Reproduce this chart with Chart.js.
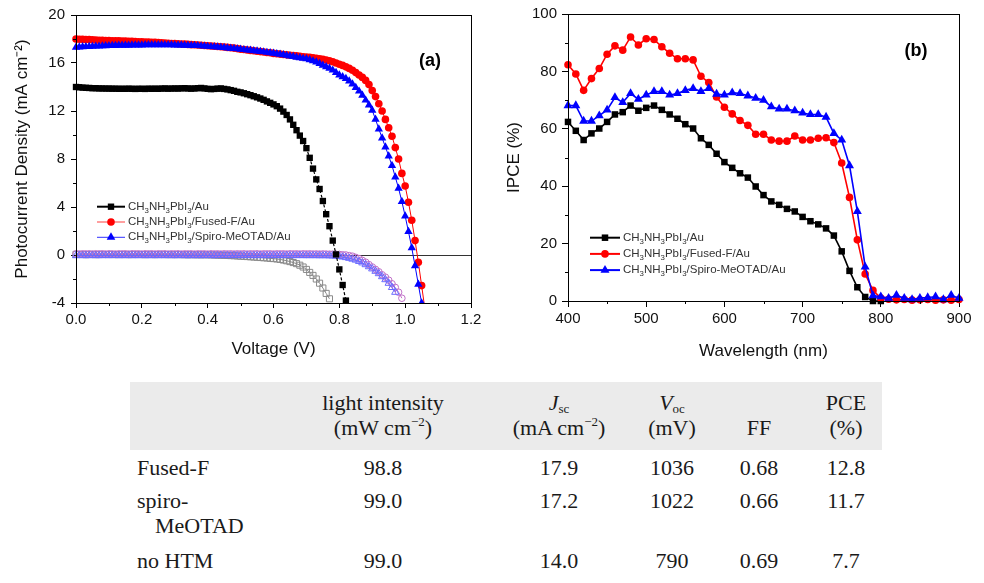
<!DOCTYPE html>
<html>
<head>
<meta charset="utf-8">
<script src="https://cdn.jsdelivr.net/npm/chart.js@4.4.1/dist/chart.umd.min.js"></script>
<style>
html,body{margin:0;padding:0;background:#fff;}
body{width:984px;height:583px;position:relative;overflow:hidden;}
canvas{position:absolute;top:0;}
#jv{left:0;}
#ipce{left:490px;}
#tbl{position:absolute;left:0;top:0;width:984px;height:583px;font-family:"Liberation Serif","Times New Roman",serif;font-size:22px;color:#1a1a1a;}
.hdr{position:absolute;left:130px;top:382px;width:752px;height:68px;background:#ebebeb;}
.cell{position:absolute;height:25px;line-height:25px;white-space:nowrap;}
sub{font-size:13px;vertical-align:-3px;line-height:0;}
sup{font-size:13px;vertical-align:9px;line-height:0;}
</style>
</head>
<body>
<div id="tbl"><div class="hdr"></div></div>
<canvas id="jv" width="490" height="365"></canvas>
<canvas id="ipce" width="494" height="365"></canvas>
<script>
// ---------------- DATA: J-V curves (panel a) ----------------
const voltage = [0.00,0.01,0.02,0.03,0.04,0.05,0.06,0.07,0.08,0.09,
0.10,0.11,0.12,0.13,0.14,0.15,0.16,0.17,0.18,0.19,
0.20,0.21,0.22,0.23,0.24,0.25,0.26,0.27,0.28,0.29,
0.30,0.31,0.32,0.33,0.34,0.35,0.36,0.37,0.38,0.39,
0.40,0.41,0.42,0.43,0.44,0.45,0.46,0.47,0.48,0.49,
0.50,0.51,0.52,0.53,0.54,0.55,0.56,0.57,0.58,0.59,
0.60,0.61,0.62,0.63,0.64,0.65,0.66,0.67,0.68,0.69,
0.70,0.71,0.72,0.73,0.74,0.75,0.76,0.77,0.78,0.79,
0.80,0.81,0.82,0.83,0.84,0.85,0.86,0.87,0.88,0.89,
0.90,0.91,0.92,0.93,0.94,0.95,0.96,0.97,0.98,0.99,
1.00,1.01,1.02,1.03,1.04,1.05,1.06];

const jvLabels = ['CH₃NH₃PbI₃/Au', 'CH₃NH₃PbI₃/Fused-F/Au', 'CH₃NH₃PbI₃/Spiro-MeOTAD/Au'];

const auLight = [14.0,13.98,13.95,13.93,13.92,13.9,13.9,13.88,13.88,13.87,
13.87,13.86,13.86,13.85,13.85,13.85,13.86,13.85,13.84,13.85,
13.85,13.84,13.86,13.85,13.86,13.85,13.87,13.88,13.86,13.87,
13.88,13.87,13.89,13.9,13.88,13.86,13.88,13.9,13.92,13.88,
13.85,13.82,13.84,13.86,13.88,13.84,13.8,13.74,13.68,13.6,
13.55,13.48,13.4,13.32,13.23,13.14,13.04,12.93,12.8,12.68,
12.55,12.4,12.2,11.95,11.67,11.3,10.85,10.4,9.95,9.5,
8.9,8.1,7.2,6.3,5.5,4.5,3.4,2.4,1.2,0.05,
-1.2,-2.5,-3.8];

const fusedLight = [18.0,17.98,17.97,17.95,17.95,17.93,17.92,17.9,17.9,17.88,
17.87,17.86,17.85,17.85,17.83,17.82,17.8,17.8,17.78,17.77,
17.76,17.75,17.74,17.72,17.72,17.7,17.68,17.67,17.65,17.63,
17.62,17.6,17.58,17.57,17.55,17.53,17.52,17.5,17.48,17.46,
17.44,17.42,17.4,17.38,17.35,17.33,17.3,17.27,17.24,17.2,
17.15,17.12,17.08,17.05,17.02,16.98,16.95,16.92,16.88,16.85,
16.8,16.77,16.74,16.71,16.68,16.65,16.62,16.59,16.55,16.52,
16.5,16.47,16.44,16.4,16.36,16.3,16.25,16.18,16.1,16.0,
15.9,15.8,15.68,15.55,15.4,15.2,15.0,14.8,14.55,14.2,
13.7,13.2,12.6,12.0,11.3,10.6,9.9,8.95,8.0,6.8,
5.75,4.4,2.9,1.2,-0.6,-2.55,-4.5];

const spiroLight = [17.3,17.32,17.34,17.36,17.37,17.38,17.4,17.4,17.42,17.43,
17.44,17.45,17.46,17.47,17.47,17.48,17.48,17.49,17.5,17.5,
17.5,17.51,17.51,17.52,17.52,17.52,17.52,17.52,17.51,17.51,
17.5,17.5,17.49,17.48,17.47,17.46,17.45,17.44,17.42,17.4,
17.38,17.36,17.34,17.32,17.3,17.28,17.25,17.22,17.2,17.17,
17.14,17.11,17.08,17.05,17.02,16.99,16.95,16.92,16.88,16.84,
16.8,16.76,16.72,16.68,16.63,16.58,16.53,16.48,16.43,16.38,
16.35,16.26,16.17,16.07,15.95,15.8,15.68,15.55,15.4,15.2,
15.0,14.85,14.7,14.5,14.25,13.95,13.65,13.3,12.9,12.5,
12.05,11.3,10.5,9.75,9.0,8.25,7.45,6.5,5.55,4.45,
3.25,1.95,0.6,-0.9,-2.45,-4.0];

const auDark = [0.05,0.04,0.05,0.03,0.04,0.05,0.03,0.04,0.05,0.04,
0.04,0.05,0.03,0.04,0.04,0.05,0.03,0.04,0.05,0.04,
0.04,0.03,0.05,0.04,0.03,0.04,0.05,0.04,0.03,0.04,
0.03,0.04,0.03,0.03,0.02,0.03,0.02,0.02,0.02,0.02,
0.02,0.01,0.0,-0.01,-0.02,-0.03,-0.04,-0.05,-0.06,-0.08,
-0.1,-0.11,-0.13,-0.15,-0.17,-0.19,-0.21,-0.23,-0.25,-0.28,
-0.3,-0.33,-0.37,-0.42,-0.48,-0.55,-0.63,-0.72,-0.85,-1.0,
-1.2,-1.45,-1.7,-2.0,-2.35,-2.75,-3.2,-3.65];

const fusedDark = [0.1,0.08,0.1,0.09,0.1,0.08,0.1,0.09,0.1,0.08,
0.1,0.09,0.08,0.1,0.09,0.1,0.08,0.1,0.09,0.1,
0.08,0.1,0.09,0.1,0.08,0.1,0.09,0.1,0.08,0.1,
0.09,0.1,0.08,0.1,0.09,0.1,0.08,0.1,0.09,0.1,
0.08,0.1,0.09,0.1,0.08,0.1,0.09,0.1,0.08,0.1,
0.09,0.1,0.08,0.1,0.09,0.1,0.08,0.1,0.09,0.1,
0.08,0.1,0.09,0.1,0.08,0.1,0.09,0.1,0.08,0.1,
0.09,0.1,0.08,0.09,0.08,0.09,0.08,0.07,0.07,0.06,
0.05,0.02,0.0,-0.05,-0.1,-0.2,-0.3,-0.45,-0.6,-0.8,
-1.0,-1.2,-1.4,-1.65,-1.85,-2.1,-2.4,-2.7,-3.1,-3.6];

const spiroDark = [-0.05,-0.03,-0.05,-0.04,-0.05,-0.03,-0.05,-0.04,-0.05,-0.03,
-0.05,-0.04,-0.03,-0.05,-0.04,-0.05,-0.03,-0.05,-0.04,-0.05,
-0.03,-0.05,-0.04,-0.05,-0.03,-0.05,-0.04,-0.05,-0.03,-0.05,
-0.04,-0.05,-0.03,-0.05,-0.04,-0.05,-0.03,-0.05,-0.04,-0.05,
-0.03,-0.05,-0.04,-0.05,-0.03,-0.05,-0.04,-0.05,-0.03,-0.05,
-0.04,-0.05,-0.03,-0.05,-0.04,-0.05,-0.03,-0.05,-0.04,-0.05,
-0.03,-0.05,-0.04,-0.05,-0.03,-0.05,-0.04,-0.05,-0.03,-0.05,
-0.04,-0.05,-0.04,-0.05,-0.05,-0.05,-0.05,-0.06,
-0.07,-0.09,-0.12,-0.16,-0.21,-0.27,-0.34,-0.42,-0.53,-0.65,
-0.8,-0.97,-1.15,-1.35,-1.55,-1.8,-2.05,-2.35,-2.7,-3.1];

// ---------------- DATA: IPCE spectra (panel b) ----------------
const wavelength = [400,410,420,430,440,450,460,470,480,490,
500,510,520,530,540,550,560,570,580,590,
600,610,620,630,640,650,660,670,680,690,
700,710,720,730,740,750,760,770,780,790,
800,810,820,830,840,850,860,870,880,890,900];

const ipceAu = [62.4,59.3,56.1,58.4,60.1,62.4,65.0,65.8,68.1,66.3,
67.3,68.1,66.6,65.0,63.5,61.6,60.1,56.7,54.4,51.3,
48.4,46.4,44.5,43.0,39.9,36.9,34.7,33.5,32.1,31.2,
29.3,27.8,26.7,25.3,22.8,17.3,10.5,4.8,1.4,0.0,0.0];

const ipceFused = [82.3,79.1,73.4,77.5,81.0,86.0,88.9,87.4,92.0,89.2,
91.4,91.1,88.6,86.3,84.4,84.4,84.0,78.3,76.1,71.1,
67.5,65.2,62.9,61.2,58.1,58.1,56.1,55.7,55.7,57.5,
56.1,56.1,56.7,56.9,55.2,48.1,36.1,21.3,9.4,3.7,
1.0,0.6,0.4,0.5,0.3,0.4,0.5,0.3,0.4,0.3,0.5];

const ipceSpiro = [68.1,68.1,62.7,62.7,64.6,66.6,70.9,69.2,72.3,70.3,
71.8,73.0,73.0,71.8,72.3,73.4,74.1,73.0,74.1,72.1,
71.8,72.6,72.3,71.5,70.7,70.0,67.7,66.9,66.9,66.3,
65.5,65.0,65.0,64.1,58.4,56.1,47.2,31.2,11.9,1.9,
1.5,1.0,2.0,1.0,0.5,1.0,1.2,1.5,0.5,2.0,1.0];

// ---------------- DATA: table ----------------
const rowNames = ['Fused-F', 'spiro-', 'no HTM'];
const rowNameCont = ['', 'MeOTAD', ''];
const lightIntensity = ['98.8', '99.0', '99.0'];
const jscValues = ['17.9', '17.2', '14.0'];
const vocValues = ['1036', '1022', '790'];
const ffValues = ['0.68', '0.66', '0.69'];
const pceValues = ['12.8', '11.7', '7.7'];
const headerTop = ['light intensity', '<i>J</i><sub>sc</sub>', '<i>V</i><sub>oc</sub>', '', 'PCE'];
const headerBottom = ['(mW cm<sup>−2</sup>)', '(mA cm<sup>−2</sup>)', '(mV)', 'FF', '(%)'];

// ---------------- helpers ----------------
const FONT = '"Liberation Sans", Arial, Helvetica, sans-serif';
const pts = (xs, ys) => ys.map((y, i) => ({ x: xs[i], y: y }));
const SUBS = {'₀':'0','₁':'1','₂':'2','₃':'3','₄':'4','₅':'5'};

function drawMarker(ctx, style, x, y, r, fill, stroke, lw) {
  ctx.beginPath();
  if (style === 'rect') { const s = r * Math.SQRT1_2; ctx.rect(x - s, y - s, 2 * s, 2 * s); }
  else if (style === 'circle') { ctx.arc(x, y, r, 0, Math.PI * 2); }
  else { ctx.moveTo(x, y - r); ctx.lineTo(x + r * 0.866, y + r * 0.5); ctx.lineTo(x - r * 0.866, y + r * 0.5); ctx.closePath(); }
  ctx.fillStyle = fill; ctx.fill();
  if (lw) { ctx.lineWidth = lw; ctx.strokeStyle = stroke; ctx.stroke(); }
}

function drawRichText(ctx, text, x, y, size, color) {
  ctx.save();
  ctx.fillStyle = color; ctx.textBaseline = 'middle'; ctx.textAlign = 'left';
  for (const ch of text) {
    const sub = SUBS[ch];
    const c = sub || ch;
    ctx.font = (sub ? size * 0.68 : size) + 'px ' + FONT;
    ctx.fillText(c, x, sub ? y + size * 0.33 : y);
    x += ctx.measureText(c).width;
  }
  ctx.restore();
}

function extrasPlugin(cfg) {
  return {
    id: 'extras_' + cfg.name,
    beforeDatasetsDraw(chart) {
      if (!cfg.zeroLine) return;
      const a = chart.chartArea, ctx = chart.ctx;
      const y = Math.round(chart.scales.y.getPixelForValue(0)) + 0.5;
      ctx.save(); ctx.strokeStyle = '#333'; ctx.lineWidth = 1;
      ctx.beginPath(); ctx.moveTo(a.left, y); ctx.lineTo(a.right, y); ctx.stroke(); ctx.restore();
    },
    afterDraw(chart) {
      const a = chart.chartArea, ctx = chart.ctx;
      ctx.save();
      // frame
      ctx.strokeStyle = '#000'; ctx.lineWidth = 1;
      ctx.strokeRect(Math.round(a.left) + 0.5, Math.round(a.top) + 0.5, Math.round(a.right - a.left), Math.round(a.bottom - a.top));
      // minor ticks
      const xs = chart.scales.x, ys = chart.scales.y;
      ctx.beginPath();
      for (let i = 0; i < xs.ticks.length - 1; i++) {
        const v = (xs.ticks[i].value + xs.ticks[i + 1].value) / 2;
        const px = Math.round(xs.getPixelForValue(v)) + 0.5;
        ctx.moveTo(px, a.bottom); ctx.lineTo(px, a.bottom + cfg.minorLen);
      }
      for (let i = 0; i < ys.ticks.length - 1; i++) {
        const v = (ys.ticks[i].value + ys.ticks[i + 1].value) / 2;
        const py = Math.round(ys.getPixelForValue(v)) + 0.5;
        ctx.moveTo(a.left, py); ctx.lineTo(a.left - cfg.minorLen, py);
      }
      ctx.stroke();
      // panel label
      ctx.fillStyle = '#000'; ctx.font = 'bold 18px ' + FONT;
      ctx.textAlign = 'center'; ctx.textBaseline = 'middle';
      ctx.fillText(cfg.panel, a.right + cfg.panelDx, a.top + cfg.panelDy);
      // legend
      const L = cfg.legend;
      L.items.forEach((it, i) => {
        const y = a.top + L.dy + i * L.gap;
        const x0 = a.left + L.dx;
        ctx.strokeStyle = it.lineColor; ctx.lineWidth = it.lineW;
        ctx.beginPath(); ctx.moveTo(x0, y); ctx.lineTo(x0 + L.len, y); ctx.stroke();
        drawMarker(ctx, it.style, x0 + L.len / 2, y, it.r, it.color, it.color, 0);
        drawRichText(ctx, it.label, x0 + L.len + L.textGap, y, L.size, '#333');
      });
      ctx.restore();
    }
  };
}

function axisCommon(min, max, step, fmt, pad) {
  return {
    type: 'linear', min: min, max: max,
    ticks: { stepSize: step, color: '#111', font: { family: FONT, size: 15 }, padding: pad,
             callback: fmt, autoSkip: false, maxRotation: 0 },
    grid: { display: true, drawOnChartArea: false, drawTicks: true, tickLength: 5, color: '#000', lineWidth: 1 },
    border: { display: true, color: '#000', width: 1 }
  };
}

// ---------------- panel (a) ----------------
const black = '#000000', red = '#ff0000', blue = '#0000ff';
const grayDark = '#8a8a8a', redDark = '#c070c8', blueDark = '#6a6aff';

const jvX = axisCommon(0, 1.2, 0.2, v => v.toFixed(1), 3);
jvX.title = { display: true, text: 'Voltage (V)', color: '#111', font: { family: FONT, size: 17 }, padding: { top: 2, bottom: 5 } };
jvX.afterFit = s => { s.height = 62; };
const jvY = axisCommon(-4, 20, 4, v => String(Math.round(v)), 6);
jvY.title = { display: true, text: 'Photocurrent Density (mA cm⁻²)', color: '#111', font: { family: FONT, size: 17 }, padding: { top: 12, bottom: 0 } };
jvY.afterFit = s => { s.width = 76; };

const jvClip = { left: 6, right: 6, top: 6, bottom: 0 };
new Chart(document.getElementById('jv'), {
  type: 'line',
  data: {
    datasets: [
      { label: jvLabels[0] + ' dark', data: pts(voltage, auDark), order: 6, clip: jvClip,
        borderColor: grayDark, borderWidth: 1, pointStyle: 'rect', pointRadius: 4.3,
        pointBorderColor: grayDark, pointBackgroundColor: 'rgba(255,255,255,0)', pointBorderWidth: 1 },
      { label: jvLabels[1] + ' dark', data: pts(voltage, fusedDark), order: 5, clip: jvClip,
        borderColor: redDark, borderWidth: 1, pointStyle: 'circle', pointRadius: 3.3,
        pointBorderColor: redDark, pointBackgroundColor: 'rgba(255,255,255,0)', pointBorderWidth: 1 },
      { label: jvLabels[2] + ' dark', data: pts(voltage, spiroDark), order: 4, clip: jvClip,
        borderColor: blueDark, borderWidth: 1, pointStyle: 'triangle', pointRadius: 4.2,
        pointBorderColor: blueDark, pointBackgroundColor: 'rgba(255,255,255,0)', pointBorderWidth: 1 },
      { label: jvLabels[0], data: pts(voltage, auLight), order: 3, clip: jvClip,
        borderColor: black, borderWidth: 1.2, borderDash: [3, 2], pointStyle: 'rect', pointRadius: 4.5,
        pointBorderColor: black, pointBackgroundColor: black, pointBorderWidth: 0 },
      { label: jvLabels[1], data: pts(voltage, fusedLight), order: 2, clip: jvClip,
        borderColor: red, borderWidth: 1, pointStyle: 'circle', pointRadius: 3.8,
        pointBorderColor: red, pointBackgroundColor: red, pointBorderWidth: 0 },
      { label: jvLabels[2], data: pts(voltage, spiroLight), order: 1, clip: jvClip,
        borderColor: blue, borderWidth: 1, pointStyle: 'triangle', pointRadius: 4.8,
        pointBorderColor: blue, pointBackgroundColor: blue, pointBorderWidth: 0 }
    ]
  },
  options: {
    responsive: false, animation: false, devicePixelRatio: 1,
    layout: { padding: { left: 0, top: 10, right: 19, bottom: 0 } },
    plugins: { legend: { display: false }, tooltip: { enabled: false } },
    elements: { line: { tension: 0 } },
    scales: { x: jvX, y: jvY }
  },
  plugins: [extrasPlugin({
    name: 'a', zeroLine: true, minorLen: 3, panel: '(a)', panelDx: -41, panelDy: 46,
    legend: { dx: 21, dy: 191.7, gap: 15.3, len: 28, textGap: 3, size: 11.5, items: [
      { label: jvLabels[0], color: black, lineColor: black, lineW: 2, style: 'rect', r: 4.5 },
      { label: jvLabels[1], color: red, lineColor: '#ff6060', lineW: 1.2, style: 'circle', r: 3.8 },
      { label: jvLabels[2], color: blue, lineColor: '#3030ff', lineW: 1, style: 'triangle', r: 5 }
    ] }
  })]
});

// ---------------- panel (b) ----------------
const ipX = axisCommon(400, 900, 100, v => String(Math.round(v)), 3);
ipX.grid.tickLength = 6;
ipX.title = { display: true, text: 'Wavelength (nm)', color: '#111', font: { family: FONT, size: 17 }, padding: { top: 2, bottom: 3 } };
ipX.afterFit = s => { s.height = 64; };
const ipY = axisCommon(0, 100, 20, v => String(Math.round(v)), 5);
ipY.grid.tickLength = 6;
ipY.title = { display: true, text: 'IPCE (%)', color: '#111', font: { family: FONT, size: 17 }, padding: { top: 14, bottom: 0 } };
ipY.afterFit = s => { s.width = 78; };

new Chart(document.getElementById('ipce'), {
  type: 'line',
  data: {
    datasets: [
      { label: jvLabels[0], data: pts(wavelength, ipceAu), order: 3, clip: false,
        borderColor: black, borderWidth: 1.6, pointStyle: 'rect', pointRadius: 4.6,
        pointBorderColor: black, pointBackgroundColor: black, pointBorderWidth: 0 },
      { label: jvLabels[1], data: pts(wavelength, ipceFused), order: 2, clip: false,
        borderColor: red, borderWidth: 1.6, pointStyle: 'circle', pointRadius: 3.8,
        pointBorderColor: red, pointBackgroundColor: red, pointBorderWidth: 0 },
      { label: jvLabels[2], data: pts(wavelength, ipceSpiro), order: 1, clip: false,
        borderColor: blue, borderWidth: 1.6, pointStyle: 'triangle', pointRadius: 5.2,
        pointBorderColor: blue, pointBackgroundColor: blue, pointBorderWidth: 0 }
    ]
  },
  options: {
    responsive: false, animation: false, devicePixelRatio: 1,
    layout: { padding: { left: 0, top: 8, right: 25, bottom: 0 } },
    plugins: { legend: { display: false }, tooltip: { enabled: false } },
    elements: { line: { tension: 0 } },
    scales: { x: ipX, y: ipY }
  },
  plugins: [extrasPlugin({
    name: 'b', zeroLine: false, minorLen: 3, panel: '(b)', panelDx: -43, panelDy: 37,
    legend: { dx: 22, dy: 223.7, gap: 16.2, len: 30, textGap: 3, size: 11.5, items: [
      { label: jvLabels[0], color: black, lineColor: black, lineW: 2, style: 'rect', r: 4.6 },
      { label: jvLabels[1], color: red, lineColor: red, lineW: 2, style: 'circle', r: 3.8 },
      { label: jvLabels[2], color: blue, lineColor: blue, lineW: 2, style: 'triangle', r: 5.2 }
    ] }
  })]
});

// ---------------- table ----------------
(function buildTable() {
  const host = document.getElementById('tbl');
  function place(html, x, yc, align) {
    const d = document.createElement('div');
    d.className = 'cell';
    d.innerHTML = html;
    d.style.top = (yc - 12.5) + 'px';
    if (align === 'left') { d.style.left = x + 'px'; }
    else { d.style.left = (x - 100) + 'px'; d.style.width = '200px'; d.style.textAlign = 'center'; }
    host.appendChild(d);
  }
  const colX = [383, 559, 672, 759, 846];
  headerTop.forEach((h, i) => { if (h) place(h, colX[i], 402, 'center'); });
  headerBottom.forEach((h, i) => place(h, colX[i], 427, 'center'));
  const rowY = [467, 500, 560];
  const cols = [lightIntensity, jscValues, vocValues, ffValues, pceValues];
  rowNames.forEach((n, r) => {
    place(n, 137, rowY[r], 'left');
    if (rowNameCont[r]) place(rowNameCont[r], 155, rowY[r] + 25, 'left');
    cols.forEach((c, i) => place(c[r], colX[i], rowY[r], 'center'));
  });
})();
</script>
</body>
</html>
